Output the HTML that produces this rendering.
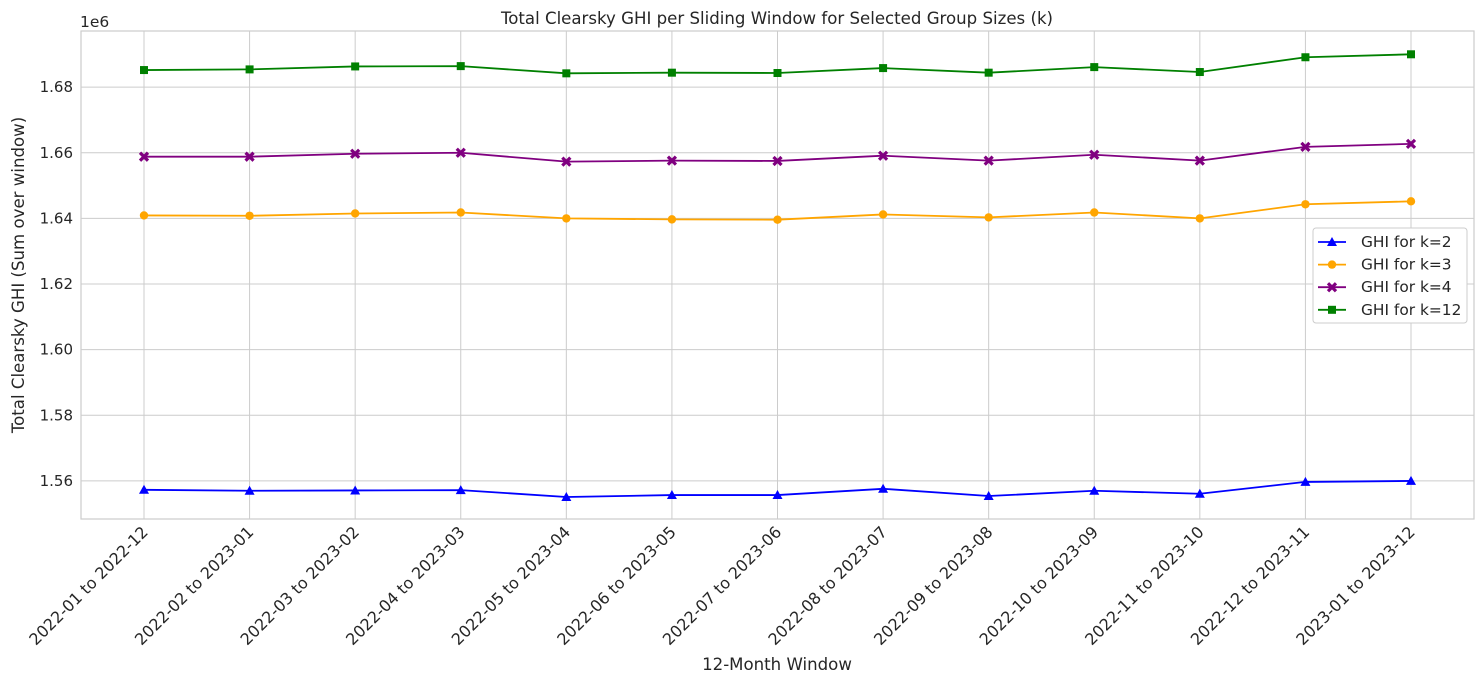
<!DOCTYPE html>
<html><head><meta charset="utf-8"><style>
body{margin:0;background:#fff;font-family:"Liberation Sans","DejaVu Sans",sans-serif;}
svg text{font-family:"DejaVu Sans","Liberation Sans",sans-serif;fill:#262626;}
</style></head><body>
<svg id="c" width="1484" height="684"></svg>
<script>
const categories=["2022-01 to 2022-12","2022-02 to 2023-01","2022-03 to 2023-02","2022-04 to 2023-03","2022-05 to 2023-04","2022-06 to 2023-05","2022-07 to 2023-06","2022-08 to 2023-07","2022-09 to 2023-08","2022-10 to 2023-09","2022-11 to 2023-10","2022-12 to 2023-11","2023-01 to 2023-12"];
const k2=[1.5573,1.5570,1.5571,1.5572,1.5551,1.5557,1.5557,1.5576,1.5554,1.5570,1.5561,1.5597,1.5600];
const k3=[1.6409,1.6408,1.6415,1.6418,1.6400,1.6397,1.6396,1.6412,1.6403,1.6418,1.6400,1.6443,1.6452];
const k4=[1.6588,1.6588,1.6597,1.6600,1.6573,1.6576,1.6575,1.6591,1.6576,1.6594,1.6576,1.6618,1.6627];
const k12=[1.6852,1.6854,1.6863,1.6864,1.6842,1.6844,1.6843,1.6858,1.6844,1.6861,1.6846,1.6891,1.6900];
const yTicks=[1.56,1.58,1.60,1.62,1.64,1.66,1.68];
const seriesNames=["GHI for k=2","GHI for k=3","GHI for k=4","GHI for k=12"];
const L=81,R=1474,T=31,B=519,ymin=1.5484,ymax=1.6971;
const x=i=>144+i*(1411-144)/(categories.length-1);
const y=v=>B-(v-ymin)/(ymax-ymin)*(B-T);
const svg=document.getElementById('c');const NS="http://www.w3.org/2000/svg";
function mk(t,a,p){const e=document.createElementNS(NS,t);for(const k in a)e.setAttribute(k,a[k]);(p||svg).appendChild(e);return e;}
mk('rect',{x:L,y:T,width:R-L,height:B-T,fill:'#fff',stroke:'#ccc','stroke-width':1.2});
categories.forEach((c,i)=>{
 const g=mk('line',{x1:x(i),x2:x(i),y1:T,y2:B,stroke:'#ccc','stroke-width':1});
 
 const t=mk('text',{x:x(i)+5,y:B+14,'font-size':16,'text-anchor':'end',transform:`rotate(-45 ${x(i)+5} ${B+14})`});
 t.textContent=c;
});
yTicks.forEach(v=>{
 const g=mk('line',{x1:L,x2:R,y1:y(v),y2:y(v),stroke:'#ccc','stroke-width':1});
 
 const t=mk('text',{x:L-8,y:y(v)+5,'font-size':15,'text-anchor':'end'});
 t.textContent=v.toFixed(2);
});
let t=mk('text',{x:80,y:27,'font-size':15.5});t.textContent='1e6';
t=mk('text',{x:777,y:24,'font-size':16.6,'text-anchor':'middle'});t.textContent='Total Clearsky GHI per Sliding Window for Selected Group Sizes (k)';
t=mk('text',{x:777,y:670,'font-size':16.6,'text-anchor':'middle'});t.textContent='12-Month Window';
t=mk('text',{x:24,y:275,'font-size':16.6,'text-anchor':'middle',transform:'rotate(-90 24 275)'});t.textContent='Total Clearsky GHI (Sum over window)';
const colors=['blue','orange','purple','green'];const markers=['tri','circ','x','sq'];
function marker(type,cx,cy,col,p){
 let e;
 if(type==='tri')e=mk('polygon',{points:`${cx},${cy-5} ${cx-5},${cy+4} ${cx+5},${cy+4}`,fill:col},p);
 else if(type==='circ')e=mk('circle',{cx,cy,r:4.2,fill:col},p);
 else if(type==='sq')e=mk('rect',{x:cx-4,y:cy-4,width:8,height:8,fill:col},p);
 else{e=mk('path',{d:`M${cx-4} ${cy-4}L${cx+4} ${cy+4}M${cx+4} ${cy-4}L${cx-4} ${cy+4}`,stroke:col,'stroke-width':3.2},p);}
 return e;
}
[k2,k3,k4,k12].forEach((s,si)=>{
 const g=mk('g',{});
 const l=mk('polyline',{points:s.map((v,i)=>x(i)+','+y(v)).join(' '),fill:'none',stroke:colors[si],'stroke-width':1.8},g);
 
 s.forEach((v,i)=>{const m=marker(markers[si],x(i),y(v),colors[si],g);});
});
const lg=mk('g',{});
mk('rect',{x:1313,y:228,width:154,height:95,rx:3,fill:'#fff',stroke:'#ccc'},lg);
seriesNames.forEach((n,i)=>{
 const yy=242+i*22.6;
 const e=mk('g',{},lg);
 mk('line',{x1:1318,x2:1346,y1:yy,y2:yy,stroke:colors[i],'stroke-width':1.8},e);
 marker(markers[i],1332,yy,colors[i],e);
 const tx=mk('text',{x:1361,y:yy+5,'font-size':15.4},e);tx.textContent=n;
});
</script>
</body></html>
